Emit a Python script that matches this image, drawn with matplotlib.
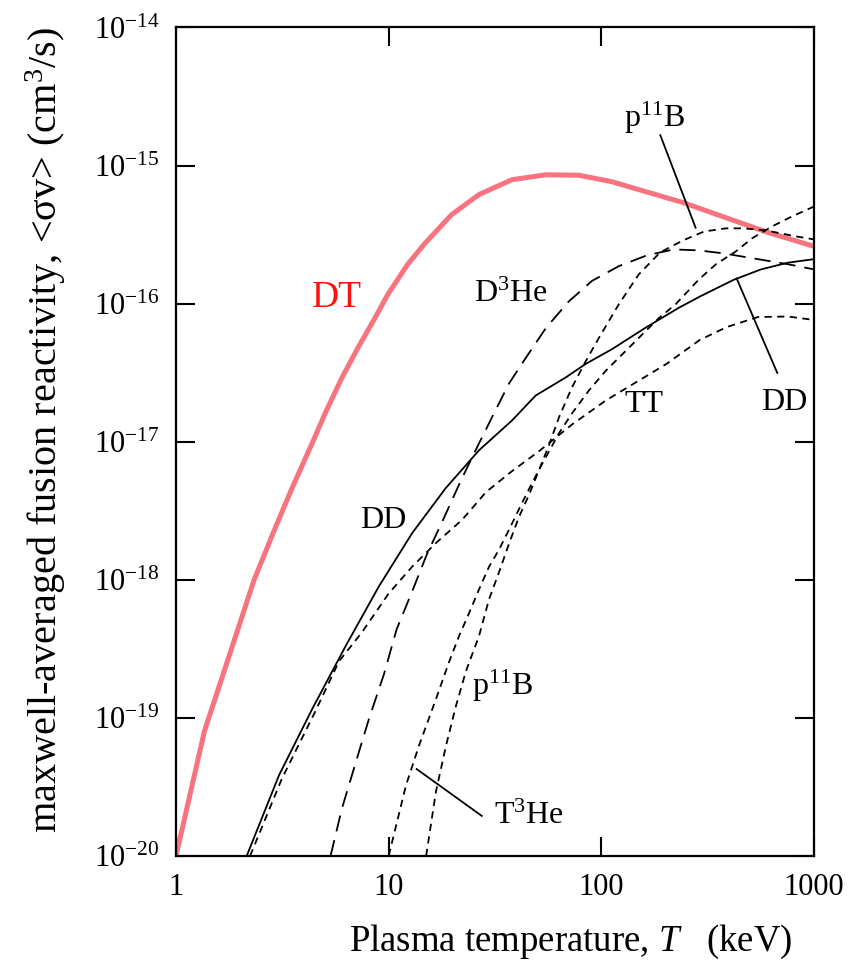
import matplotlib
matplotlib.use("Agg")
import matplotlib.pyplot as plt
from matplotlib.ticker import FixedLocator, NullLocator

plt.rcParams['font.family'] = ['Liberation Serif', 'DejaVu Serif']
plt.rcParams['mathtext.fontset'] = 'custom'
plt.rcParams['mathtext.rm'] = 'Liberation Serif'
plt.rcParams['mathtext.it'] = 'Liberation Serif:italic'

# values (T in keV, <sigma v> in cm^3/s)
dt_T = [1.0, 1.36, 2.33, 2.92, 3.51, 4.4, 5.02, 6.03, 7.17, 8.62, 9.92, 12.3, 14.8,
        19.8, 26.6, 38.0, 54.9, 78.5, 112, 162, 242, 420, 607, 1000]
dt_sv = [1.0e-20, 8.0e-20, 1.0e-18, 2.35e-18, 4.6e-18, 1.0e-17, 1.6e-17, 2.91e-17,
         4.79e-17, 7.87e-17, 1.17e-16, 1.93e-16, 2.73e-16, 4.42e-16, 6.17e-16, 7.9e-16,
         8.58e-16, 8.51e-16, 7.64e-16, 6.47e-16, 5.4e-16, 4.0e-16, 3.28e-16, 2.6e-16]

dd_T = [2.15, 3.05, 4.37, 6.28, 9.0, 12.9, 18.5, 26.6, 38.1, 49.1, 68.0, 84.4, 112.5,
        161.5, 231.6, 292, 420, 563, 754, 1000]
dd_sv = [1.0e-20, 3.84e-20, 1.16e-19, 3.32e-19, 8.97e-19, 2.18e-18, 4.59e-18, 8.67e-18,
         1.43e-17, 2.16e-17, 2.92e-17, 3.66e-17, 4.69e-17, 6.7e-17, 9.34e-17, 1.13e-16,
         1.49e-16, 1.77e-16, 1.98e-16, 2.1e-16]

tt_T = [2.23, 3.15, 4.50, 5.84, 7.49, 10.0, 12.9, 16.7, 22.1, 28.7, 38.0, 50.9, 72.7,
        105, 150, 203, 291, 390, 545, 754, 1000]
tt_sv = [1.0e-20, 3.64e-20, 1.10e-19, 2.57e-19, 4.17e-19, 7.96e-19, 1.245e-18, 1.85e-18,
         2.71e-18, 4.32e-18, 6.12e-18, 8.53e-18, 1.33e-17, 1.99e-17, 2.77e-17, 3.67e-17,
         5.47e-17, 6.78e-17, 8.0e-17, 8.07e-17, 7.62e-17]

dhe3_T = [5.33, 6.03, 7.02, 8.08, 9.50, 10.9, 13.0, 15.1, 18.2, 21.9, 26.6, 30.6, 36.8,
          44.2, 54.9, 70.4, 90.3, 121, 164, 219, 288, 377, 545, 754, 1000]
dhe3_sv = [1.0e-20, 2.21e-20, 4.82e-20, 9.84e-20, 2.07e-19, 4.38e-19, 8.5e-19, 1.52e-18,
           2.81e-18, 5.27e-18, 9.73e-18, 1.5e-17, 2.64e-17, 4.06e-17, 6.67e-17, 1.04e-16,
           1.46e-16, 1.87e-16, 2.24e-16, 2.47e-16, 2.43e-16, 2.31e-16, 2.1e-16, 1.93e-16,
           1.77e-16]

pb11_T = [15.0, 16.69, 18.60, 20.72, 23.09, 26.58, 29.62, 33.0, 36.78, 40.98, 45.66,
          50.89, 56.7, 63.2, 72.7, 84.7, 97.4, 121, 150, 189, 242, 304, 385, 468, 594,
          822, 1000]
pb11_sv = [1.0e-20, 2.93e-20, 6.28e-20, 1.22e-19, 2.18e-19, 3.90e-19, 7.2e-19, 1.13e-18,
           1.82e-18, 2.85e-18, 4.11e-18, 6.22e-18, 9.42e-18, 1.50e-17, 2.47e-17, 3.86e-17,
           5.65e-17, 9.93e-17, 1.63e-16, 2.35e-16, 2.87e-16, 3.33e-16, 3.51e-16, 3.51e-16,
           3.39e-16, 3.07e-16, 2.92e-16]

the3_T = [10.0, 12.06, 13.88, 16.69, 19.21, 21.41, 23.85, 26.58, 29.62, 33.0, 36.78, 41.9,
          46.7, 52.6, 63.2, 72.7, 87.4, 105, 130.5, 155, 186.6, 224, 288, 346, 429, 511,
          634, 787, 1000]
the3_sv = [1.0e-20, 3.24e-20, 6.28e-20, 1.37e-19, 2.53e-19, 3.90e-19, 5.71e-19, 8.5e-19,
           1.24e-18, 1.65e-18, 2.30e-18, 3.48e-18, 4.85e-18, 6.88e-18, 1.15e-17, 1.60e-17,
           2.35e-17, 3.27e-17, 4.56e-17, 5.94e-17, 7.87e-17, 9.93e-17, 1.50e-16, 1.93e-16,
           2.39e-16, 2.97e-16, 3.62e-16, 4.28e-16, 5.05e-16]

x_ticks = [1, 10, 100, 1000]
x_tick_labels = ['1', '10', '100', '1000']
y_ticks = [1e-20, 1e-19, 1e-18, 1e-17, 1e-16, 1e-15, 1e-14]
y_tick_labels = ['$10^{-20}$', '$10^{-19}$', '$10^{-18}$', '$10^{-17}$',
                 '$10^{-16}$', '$10^{-15}$', '$10^{-14}$']

fig = plt.figure(figsize=(8.59, 9.75), dpi=100)
ax = fig.add_axes([0.2049, 0.1221, 0.7427, 0.8497])

short = (0, (4.0, 3.0))
long_ = (0, (9.0, 5.0))

ax.plot(dt_T, dt_sv, color='#f7737f', lw=3.6, solid_capstyle='butt')
ax.plot(dd_T, dd_sv, color='black', lw=1.3)
ax.plot(tt_T, tt_sv, color='black', lw=1.3, ls=short)
ax.plot(dhe3_T, dhe3_sv, color='black', lw=1.3, ls=long_)
ax.plot(pb11_T, pb11_sv, color='black', lw=1.3, ls=short)
ax.plot(the3_T, the3_sv, color='black', lw=1.3, ls=short)

ax.set_xscale('log')
ax.set_yscale('log')
ax.set_xlim(1, 1000)
ax.set_ylim(1e-20, 1e-14)

ax.xaxis.set_major_locator(FixedLocator(x_ticks))
ax.xaxis.set_minor_locator(NullLocator())
ax.yaxis.set_major_locator(FixedLocator(y_ticks))
ax.yaxis.set_minor_locator(NullLocator())
ax.set_xticklabels(x_tick_labels)
ax.set_yticklabels(y_tick_labels)
ax.tick_params(which='major', direction='in', length=14, width=1.5,
               top=True, right=True, labelsize=22, pad=12)
for s in ax.spines.values():
    s.set_linewidth(1.6)

# curve labels
lab = dict(fontsize=23, ha='center', va='center')
ax.text(5.7, 1.1e-16, 'DT', color='#ff1010', fontsize=27, ha='center', va='center')
ax.text(37.6, 1.16e-16, 'D$^3$He', **lab)
ax.text(178, 2.2e-15, 'p$^{11}$B', **lab)
ax.text(158, 1.85e-17, 'TT', **lab)
ax.text(722, 1.91e-17, 'DD', **lab)
ax.text(9.4, 2.67e-18, 'DD', **lab)
ax.text(34.5, 1.7e-19, 'p$^{11}$B', **lab)
ax.text(45.7, 1.92e-20, 'T$^3$He', **lab)

# leader lines
ax.plot([189.4, 277.5], [1.66e-15, 3.55e-16], color='black', lw=1.3)
ax.plot([433, 672], [1.52e-16, 3.15e-17], color='black', lw=1.3)
ax.plot([13.54, 27.4], [4.26e-20, 1.95e-20], color='black', lw=1.3)

fig.text(571 / 859, 1 - 942 / 975, 'Plasma temperature, $T$   (keV)',
         fontsize=26.5, ha='center', va='center')
fig.text(46 / 859, 1 - 430 / 975,
         'maxwell-averaged fusion reactivity, <σv> (cm$^3$/s)',
         fontsize=29, ha='center', va='center', rotation=90)

fig.savefig('out.png', dpi=100)
